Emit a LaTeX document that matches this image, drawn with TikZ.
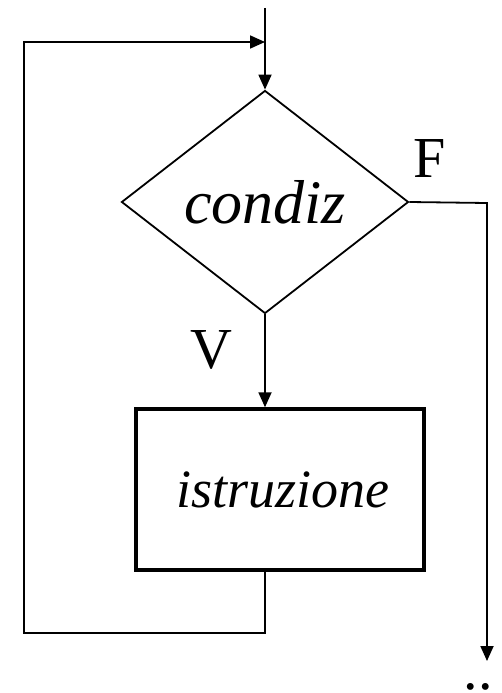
\documentclass[tikz,border=0pt]{standalone}
\usepackage{fontspec}
\setmainfont{Liberation Serif}
\usetikzlibrary{arrows.meta,shapes.geometric}
\begin{document}
\begin{tikzpicture}[x=1pt,y=-1pt,
  line/.style={line width=1.8pt},
  arr/.style={line, -{Triangle[length=15pt,width=13pt]}},
  lbl/.style={font=\fontsize{58}{60}\selectfont, inner sep=0pt, anchor=base},
  itl/.style={font=\fontsize{54}{56}\selectfont\itshape, inner sep=0pt}]
\useasboundingbox (0,0) rectangle (501,693);
% diamond
\node[diamond, draw, line width=1.8pt, minimum width=287pt, minimum height=223pt, inner sep=0pt,
      itl, font=\fontsize{62}{64}\selectfont\itshape] (cond) at (265,202) {\raisebox{-2pt}{condiz}};
% rectangle
\node[rectangle, draw, line width=3.5pt, minimum width=288pt, minimum height=161pt, inner sep=0pt,
      itl] (istr) at (280,489.5) {\hspace{6pt}istruzione};
% labels
\node[lbl] (F) at (430,177) {F};
\node[lbl] (V) at (211,368) {V};
\node[lbl] (dots) at (478,689) {..};
% coordinates
\coordinate (top) at (265,8);
\coordinate (join) at (265,42);
\coordinate (tl) at (24,42);
\coordinate (bl) at (24,633);
\coordinate (bm) at (265,633);
\coordinate (fr) at (487,203);
\coordinate (fend) at (487,661);
% connectors
\draw[arr] (top) -- (cond.north);
\draw[arr] (istr.south -| bm) -- (bm) -- (bl) -- (tl) -- (join);
\draw[arr] (cond.south) -- (cond.south |- istr.north);
\draw[arr] (cond.east) -- (fr) -- (fend);
\end{tikzpicture}
\end{document}
